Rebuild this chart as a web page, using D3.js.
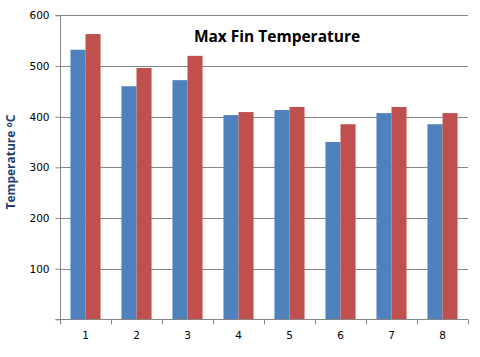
<!DOCTYPE html>
<html><head><meta charset="utf-8">
<script src="https://cdn.jsdelivr.net/npm/d3@7"></script>
<style>body{margin:0;background:#fff}svg{display:block}</style>
</head><body><svg id="c" width="480" height="357"></svg>
<script>
const categories = ["1","2","3","4","5","6","7","8"];
const seriesA = [532, 460, 472, 403, 413, 350, 407, 385];
const seriesB = [563, 496, 520, 409, 419, 385, 419, 407];
const yTicks = [100, 200, 300, 400, 500, 600];
const title = "Max Fin Temperature";

(function(){
const svg = d3.select("#c");
const mLeft = 60, mRight = 468, mTop = 15.3, mBottom = 319.3;
const x = d3.scaleBand().domain(categories).range([mLeft, mRight]).paddingInner(0).paddingOuter(0);
const y = d3.scaleLinear().domain([0, 600]).range([mBottom, mTop]);

// gridlines
svg.append("g").selectAll("line").data(yTicks).join("line")
  .attr("x1", mLeft).attr("x2", mRight)
  .attr("y1", d => Math.round(y(d)) + 0.5).attr("y2", d => Math.round(y(d)) + 0.5)
  .attr("stroke", "#868686").attr("stroke-width", 1);

// bars
const bw = x.bandwidth() * 0.295;
const g = svg.append("g");
g.selectAll(".a").data(seriesA).join("rect")
  .attr("x", (d, i) => x(categories[i]) + x.bandwidth() / 2 - bw)
  .attr("width", bw)
  .attr("y", d => y(d)).attr("height", d => y(0) - y(d))
  .attr("fill", "#4F81BD");
g.selectAll(".b").data(seriesB).join("rect")
  .attr("x", (d, i) => x(categories[i]) + x.bandwidth() / 2)
  .attr("width", bw)
  .attr("y", d => y(d)).attr("height", d => y(0) - y(d))
  .attr("fill", "#C0504D");

// y axis
const ya = svg.append("g").attr("transform", `translate(${mLeft + 0.5},0)`)
  .call(d3.axisLeft(y).tickValues([0].concat(yTicks)).tickSize(5).tickPadding(6)
    .tickFormat(d => d === 0 ? "" : d));
ya.select(".domain").attr("stroke", "#868686").attr("d", `M-5,${Math.round(mTop)+0.5}H0V${Math.round(mBottom)+0.5}H-5`);
ya.selectAll(".tick line").attr("stroke", "#868686");
ya.selectAll("text").attr("font-family", "DejaVu Sans, Verdana, sans-serif").attr("font-size", 10.5).attr("fill", "#000");

// x axis
const xa = svg.append("g").attr("transform", `translate(0,${Math.round(mBottom) + 0.5})`)
  .call(d3.axisBottom(x).tickSize(0).tickPadding(12));
xa.select(".domain").attr("stroke", "#868686").attr("d", `M${mLeft},0H${mRight}`);
xa.selectAll("text").attr("font-family", "DejaVu Sans, Verdana, sans-serif").attr("font-size", 10.5).attr("fill", "#000");
svg.append("g").selectAll("line").data(categories.concat(["end"])).join("line")
  .attr("x1", (d, i) => Math.round(mLeft + i * x.bandwidth()) + 0.5)
  .attr("x2", (d, i) => Math.round(mLeft + i * x.bandwidth()) + 0.5)
  .attr("y1", Math.round(mBottom) + 0.5).attr("y2", Math.round(mBottom) + 5.5)
  .attr("stroke", "#868686");

// title
svg.append("text").attr("x", 277).attr("y", 42).attr("text-anchor", "middle")
  .attr("font-family", "Open Sans, Liberation Sans, sans-serif").attr("font-weight", "bold")
  .attr("font-size", 15.5).attr("fill", "#000").text(title);

// y label
const yl = svg.append("text").attr("transform", "translate(15,162) rotate(-90)")
  .attr("text-anchor", "middle")
  .attr("font-family", "Open Sans, Liberation Sans, sans-serif").attr("font-weight", "bold")
  .attr("font-size", 12).attr("fill", "#1F3F6F");
yl.append("tspan").text("Temperature ");
yl.append("tspan").attr("font-size", 8.5).attr("dy", -3.5).text("o");
yl.append("tspan").attr("dy", 3.5).text("C");
})();
</script></body></html>
